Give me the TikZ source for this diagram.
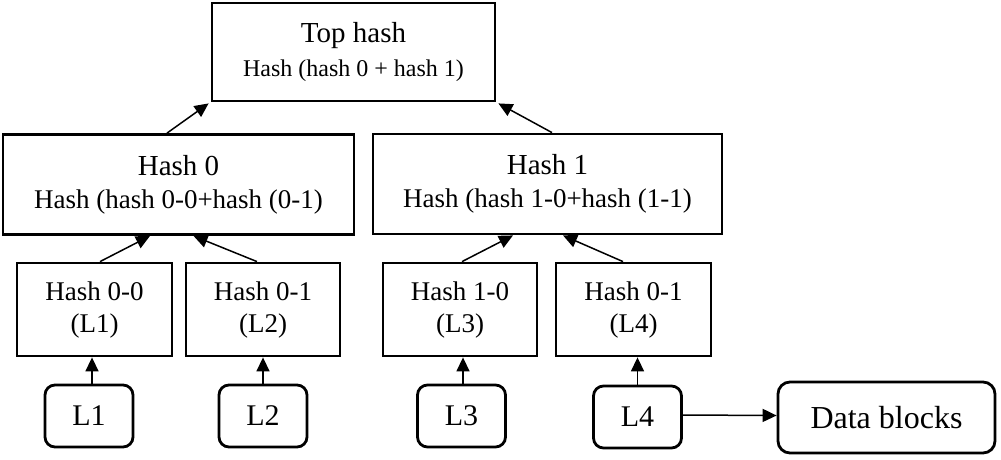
\documentclass[tikz,border=0pt]{standalone}
\usepackage{fontspec}
\setmainfont{Liberation Serif}
\usetikzlibrary{arrows.meta}
\begin{document}
\begin{tikzpicture}[x=1pt,y=-1pt,
  hbox/.style={draw,line width=2.8pt,inner sep=0pt,align=center},
  lbox/.style={draw,line width=2.8pt,inner sep=0pt,rounded corners=10pt,
    minimum width=88pt,minimum height=62pt,font=\fontsize{30}{34}\selectfont},
  conn/.style={line width=1.5pt,-{Triangle[length=14pt,width=13pt]}}]
\useasboundingbox (0,0) rectangle (1001,459);
\node[hbox,minimum width=283pt,minimum height=98pt,font=\fontsize{29}{34}\selectfont] (top) at (353.5,52)
  {Top hash\\{\fontsize{24}{34}\selectfont Hash (hash 0 + hash 1)}};
\node[hbox,minimum width=351pt,minimum height=100pt,font=\fontsize{29}{33}\selectfont] (h0) at (178.5,184.5)
  {Hash 0\\{\fontsize{27}{33}\selectfont Hash (hash 0-0+hash (0-1)}};
\node[hbox,minimum width=349pt,minimum height=100pt,font=\fontsize{29}{33}\selectfont] (h1) at (547.5,184)
  {Hash 1\\{\fontsize{27}{33}\selectfont Hash (hash 1-0+hash (1-1)}};
\node[hbox,minimum width=155pt,minimum height=93pt,font=\fontsize{27}{32}\selectfont] (h00) at (94.5,309.5) {Hash 0-0\\(L1)};
\node[hbox,minimum width=154pt,minimum height=93pt,font=\fontsize{27}{32}\selectfont] (h01) at (263,309.5) {Hash 0-1\\(L2)};
\node[hbox,minimum width=154pt,minimum height=93pt,font=\fontsize{27}{32}\selectfont] (h10) at (460,309.5) {Hash 1-0\\(L3)};
\node[hbox,minimum width=155pt,minimum height=93pt,font=\fontsize{27}{32}\selectfont] (h11) at (633.5,309.5) {Hash 0-1\\(L4)};
\node[lbox] (l1) at (89,416) {L1};
\node[lbox] (l2) at (263,416) {L2};
\node[lbox] (l3) at (461.5,416) {L3};
\node[lbox] (l4) at (637.5,417) {L4};
\node[lbox,rounded corners=12pt,minimum width=217pt,minimum height=71pt,font=\fontsize{32}{36}\selectfont] (data) at (886.5,417.5) {Data blocks};
% arrows
\draw[conn] ([xshift=-11.5pt]h0.north) -- ([xshift=-2pt,yshift=-1pt]top.south west);
\draw[conn] ([xshift=4.5pt]h1.north) -- ([xshift=2pt,yshift=-1pt]top.south east);
\draw[conn] ([xshift=5.5pt]h00.north) -- ([xshift=-28.5pt]h0.south);
\draw[conn] ([xshift=-6pt]h01.north) -- ([xshift=15pt]h0.south);
\draw[conn] ([xshift=2pt]h10.north) -- ([xshift=-34.5pt]h1.south);
\draw[conn] ([xshift=-10.5pt]h11.north) -- ([xshift=15.5pt]h1.south);
\draw[conn] ([xshift=3pt]l1.north) -- ([xshift=3pt]l1.north |- h00.south);
\draw[conn] (l2.north) -- (l2.north |- h01.south);
\draw[conn] ([xshift=1.5pt]l3.north) -- ([xshift=1.5pt]l3.north |- h10.south);
\draw[conn] (l4.north) -- (l4.north |- h11.south);
\draw[conn] ([yshift=2pt]l4.east) -- ([yshift=2pt]data.west);
\end{tikzpicture}
\end{document}
